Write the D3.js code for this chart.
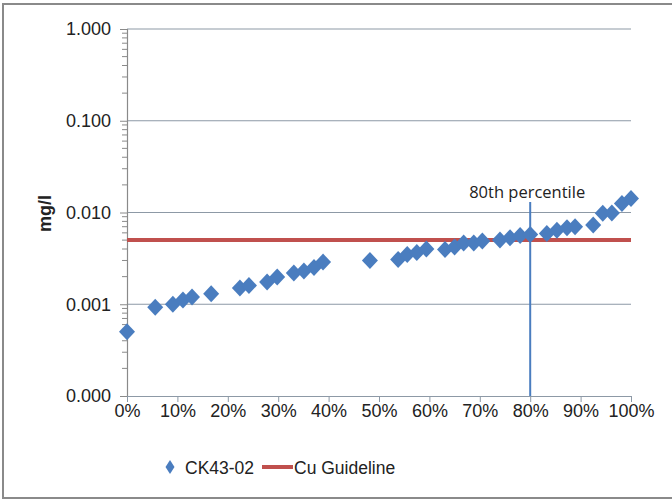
<!DOCTYPE html>
<html>
<head>
<meta charset="utf-8">
<script src="https://cdn.jsdelivr.net/npm/d3@7"></script>
<style>
  body { margin: 0; background: #fff; }
  svg text { font-family: "Liberation Sans", Arial, sans-serif; fill: #222; }
</style>
</head>
<body>
<div id="chart"></div>
<script>
// percentile rank (%) of each sample
var percentiles = [0, 5.6, 9.1, 11.1, 12.9, 16.7, 22.4, 24.2, 27.8, 29.8, 33.1, 35.1, 37.1, 38.9,
  48.2, 53.8, 55.6, 57.5, 59.4, 63.1, 65.0, 66.8, 68.8, 70.5, 74.0, 76.0, 78.0, 80.0,
  83.3, 85.3, 87.3, 88.9, 92.5, 94.4, 96.2, 98.2, 100];
// CK43-02 concentrations (mg/l)
var concentrations = [0.00050, 0.00093, 0.00100, 0.00111, 0.00120, 0.00130, 0.00150, 0.00160, 0.00175, 0.00198, 0.00219, 0.00230, 0.00251, 0.00288,
  0.00300, 0.00308, 0.00349, 0.00366, 0.00400, 0.00395, 0.00420, 0.00465, 0.00465, 0.00490, 0.00500, 0.00530, 0.00560, 0.00576,
  0.00590, 0.00640, 0.00680, 0.00700, 0.00730, 0.00980, 0.00990, 0.01250, 0.01420];
var guideline = 0.005;
var percentileMark = 80;
var yTicks = [0.0001, 0.001, 0.01, 0.1, 1];
var xTicks = [0, 10, 20, 30, 40, 50, 60, 70, 80, 90, 100];

var svgWidth = 672;
var svgHeight = 502;
var margin = { top: 29, right: 41, bottom: 106, left: 127 };
var width = svgWidth - margin.left - margin.right;
var height = svgHeight - margin.top - margin.bottom;

var svg = d3.select("#chart")
  .append("svg")
  .attr("width", svgWidth)
  .attr("height", svgHeight);

// outer frame
svg.append("rect")
  .attr("x", 3).attr("y", 4)
  .attr("width", svgWidth + 10).attr("height", 494)
  .attr("fill", "none")
  .attr("stroke", "#8a8a8a")
  .attr("stroke-width", 2);

var chartGroup = svg.append("g")
  .attr("transform", `translate(${margin.left}, ${margin.top})`);

var xScale = d3.scaleLinear().domain([0, 100]).range([0, width]);
var yScale = d3.scaleLog().domain([0.0001, 1]).range([height, 0]);

// gridlines
chartGroup.selectAll(".grid")
  .data(yTicks.slice(1))
  .enter()
  .append("line")
  .attr("x1", 0).attr("x2", width)
  .attr("y1", d => yScale(d)).attr("y2", d => yScale(d))
  .attr("stroke", "#8d99a6")
  .attr("stroke-width", 1.2);

// minor ticks on y axis
var minorTicks = [];
for (var i = 0; i < yTicks.length - 1; i++) {
  for (var m = 2; m <= 9; m++) minorTicks.push(yTicks[i] * m);
}
chartGroup.selectAll(".minor")
  .data(minorTicks)
  .enter()
  .append("line")
  .attr("x1", -5).attr("x2", 0)
  .attr("y1", d => yScale(d)).attr("y2", d => yScale(d))
  .attr("stroke", "#8a8a8a");

// y axis
var leftAxis = d3.axisLeft(yScale)
  .tickValues(yTicks)
  .tickSize(7)
  .tickPadding(9)
  .tickFormat(d3.format(".3f"));
var yAxisG = chartGroup.append("g").call(leftAxis);
yAxisG.select(".domain").attr("stroke", "#8a8a8a").attr("stroke-width", 1.2);
yAxisG.selectAll(".tick line").attr("stroke", "#8a8a8a");
yAxisG.selectAll("text").attr("font-size", "18px").attr("fill", "#222");

// x axis
var bottomAxis = d3.axisBottom(xScale)
  .tickValues(xTicks)
  .tickSize(6)
  .tickSizeOuter(0)
  .tickPadding(2)
  .tickFormat(d => d + "%");
var xAxisG = chartGroup.append("g")
  .attr("transform", `translate(0, ${height})`)
  .call(bottomAxis);
xAxisG.select(".domain").attr("stroke", "#8d99a6").attr("stroke-width", 1.2);
xAxisG.selectAll(".tick line").attr("stroke", "#8d99a6");
xAxisG.selectAll("text").attr("font-size", "18px").attr("fill", "#222");

// guideline
chartGroup.append("line")
  .attr("x1", 0).attr("x2", width)
  .attr("y1", yScale(guideline)).attr("y2", yScale(guideline))
  .attr("stroke", "#c0504d")
  .attr("stroke-width", 4);

// diamonds
var diamond = "M0,-8.5L8,0L0,8.5L-8,0Z";
chartGroup.selectAll(".pt")
  .data(percentiles)
  .enter()
  .append("path")
  .attr("d", diamond)
  .attr("transform", (d, i) => `translate(${xScale(d)}, ${yScale(concentrations[i])})`)
  .attr("fill", "#4a7dbf");

// 80th percentile marker
chartGroup.append("line")
  .attr("x1", xScale(percentileMark)).attr("x2", xScale(percentileMark))
  .attr("y1", 173).attr("y2", height)
  .attr("stroke", "#4a7dbf")
  .attr("stroke-width", 2);

chartGroup.append("text")
  .attr("x", xScale(percentileMark) - 3)
  .attr("y", 169)
  .attr("text-anchor", "middle")
  .style("font-family", "'Open Sans', sans-serif")
  .attr("font-size", "16.5px")
  .text("80th percentile");

// y axis title
chartGroup.append("text")
  .attr("transform", "rotate(-90)")
  .attr("x", -(yScale(0.01) + 1))
  .attr("y", -76)
  .attr("text-anchor", "middle")
  .attr("font-size", "18px")
  .attr("font-weight", "bold")
  .attr("fill", "#111")
  .text("mg/l");

// legend
var legend = svg.append("g").attr("transform", "translate(0, 467)");
legend.append("path")
  .attr("d", "M0,-7L4.5,0L0,7L-4.5,0Z")
  .attr("transform", "translate(170, 0)")
  .attr("fill", "#4a7dbf");
legend.append("text")
  .attr("x", 185).attr("y", 6.5)
  .attr("font-size", "17.5px")
  .text("CK43-02");
legend.append("line")
  .attr("x1", 262).attr("x2", 293)
  .attr("y1", 0).attr("y2", 0)
  .attr("stroke", "#c0504d")
  .attr("stroke-width", 4);
legend.append("text")
  .attr("x", 294).attr("y", 6.5)
  .attr("font-size", "17.5px")
  .text("Cu Guideline");
</script>
</body>
</html>
